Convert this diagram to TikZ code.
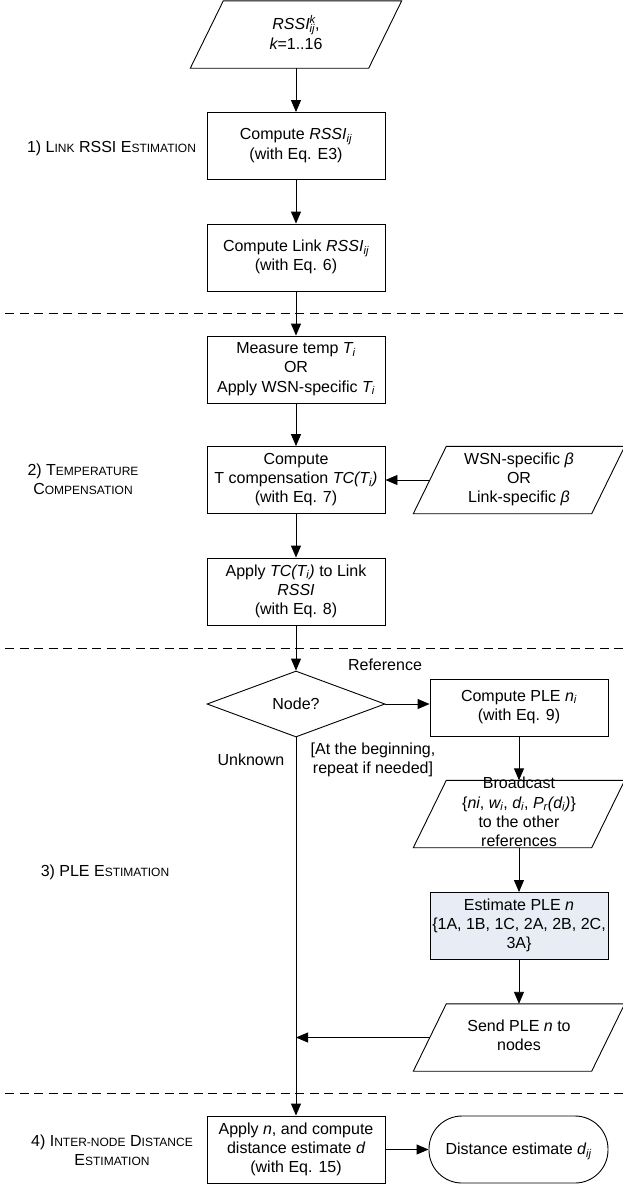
\documentclass[tikz,border=0pt]{standalone}
\usepackage{fontspec}
\setmainfont{Liberation Sans}
\usetikzlibrary{shapes.geometric,arrows.meta,calc}
\newcommand{\fsc}[1]{{\fontsize{12}{14}\selectfont #1}}
\newcommand{\sub}[1]{\textsubscript{\itshape #1}}
\newcommand{\mystrut}{\rule[-4.2pt]{0pt}{19.2pt}}
\definecolor{estfill}{RGB}{232,236,244}
\begin{document}
\begin{tikzpicture}[x=1pt,y=-1pt,
  every node/.style={font=\fontsize{16}{19.2}\selectfont, inner sep=0pt},
  txt/.style={align=center, execute at begin node=\mystrut, execute at end node=\mystrut},
  box/.style={txt, draw, line width=0.9pt, minimum width=178pt, minimum height=67pt},
  para/.style={txt, minimum width=178pt, minimum height=67pt},
  dia/.style={draw, line width=0.9pt, diamond, aspect=2.7, minimum width=178pt, minimum height=66pt},
  term/.style={txt, draw, line width=0.9pt, minimum width=179pt, minimum height=67pt, rounded corners=33pt},
  lbl/.style={align=center, execute at begin node=\mystrut, execute at end node=\mystrut},
  arr/.style={line width=0.9pt, -{Triangle[length=12pt,width=10pt]}},
  ln/.style={line width=0.9pt},
  sep/.style={line width=0.9pt, dash pattern=on 9pt off 5.5pt}
]
\useasboundingbox (0,0) rectangle (623,1187);

% dashed separators
\draw[sep] (5,313) -- (623,313);
\draw[sep] (5,648) -- (623,648);
\draw[sep] (5,1093) -- (623,1093);

% section labels
\node[lbl] (l1) at (111.5,147) {1) L\fsc{INK} RSSI E\fsc{STIMATION}};
\node[lbl] (l2) at (83,481.5) {2) T\fsc{EMPERATURE}\\C\fsc{OMPENSATION}};
\node[lbl] (l3) at (105,871) {3) PLE E\fsc{STIMATION}};
\node[lbl] (l4) at (112,1152) {4) I\fsc{NTER-NODE} D\fsc{ISTANCE}\\E\fsc{STIMATION}};

% main column
\node[para] (in1) at (296,34.5) {{\itshape RSSI}\rlap{\textsuperscript{\itshape k}}\sub{ij},\\{\itshape k}=1..16};
\node[box] (b1) at (296,146) {Compute {\itshape RSSI}\sub{ij}\\(with Eq. E3)};
\node[box] (b2) at (296,257.5) {Compute Link {\itshape RSSI}\sub{ij}\\(with Eq. 6)};
\node[box] (b3) at (296,369.5) {Measure temp {\itshape T}\sub{i}\\OR\\Apply WSN-specific {\itshape T}\sub{i}};
\node[box] (b4) at (296,480) {Compute\\T compensation {\itshape TC(T\sub{i})}\\(with Eq. 7)};
\node[para] (beta) at (519,480) {WSN-specific {\itshape β}\\OR\\Link-specific {\itshape β}};
\node[box] (b5) at (296,591.5) {Apply {\itshape TC(T\sub{i})} to Link\\{\itshape RSSI}\\(with Eq. 8)};
\node[dia] (nd) at (296,704) {Node?};
\node[box, minimum height=57pt] (ple) at (519,707.5) {Compute PLE {\itshape n}\sub{i}\\(with Eq. 9)};
\node[para] (bc) at (519,814) {};
\node[txt] (bct) at (519,814) {Broadcast\\\{{\itshape ni}, {\itshape w}\sub{i}, {\itshape d}\sub{i}, {\itshape P}\sub{r}{\itshape (d}\sub{i}{\itshape )}\}\\to the other\\references};
\node[box, fill=estfill] (est) at (519,926) {Estimate PLE {\itshape n}\\\{1A, 1B, 1C, 2A, 2B, 2C,\\3A\}};
\node[para] (send) at (519,1037.5) {Send PLE {\itshape n} to\\nodes};
\node[box] (fin) at (296,1149.5) {Apply {\itshape n}, and compute\\distance estimate {\itshape d}\\(with Eq. 15)};
\node[term] (dist) at (518.5,1149.5) {Distance estimate {\itshape d}\sub{ij}};

% parallelogram outlines
\foreach \p in {in1,beta,bc,send}{
  \draw[ln] ([xshift=16.5pt]\p.north west) -- ([xshift=16.5pt]\p.north east)
    -- ([xshift=-16.5pt]\p.south east) -- ([xshift=-16.5pt]\p.south west) -- cycle;
}

% edge labels
\node[txt] (ref) at (385,665) {Reference};
\node[txt] (unk) at (251,760) {Unknown};
\node[txt] (beg) at (373,760) {[At the beginning,\\repeat if needed]};

% connectors
\draw[arr] (in1) -- (b1);
\draw[arr] (b1) -- (b2);
\draw[arr] (b2) -- (b3);
\draw[arr] (b3) -- (b4);
\draw[arr] (beta.west) -- (b4.east |- beta.west);
\draw[arr] (b4) -- (b5);
\draw[arr] (b5) -- (nd);
\draw[arr] (nd.east) -- (nd.east -| ple.west);
\draw[arr] (ple) -- (bc);
\draw[arr] (bc) -- (est);
\draw[arr] (est) -- (send);
\draw[arr] (nd.south) -- (fin.north);
\draw[arr] (send.west) -- (send.west -| nd.south);
\draw[arr] (fin.east) -- (dist.west);
\end{tikzpicture}
\end{document}
